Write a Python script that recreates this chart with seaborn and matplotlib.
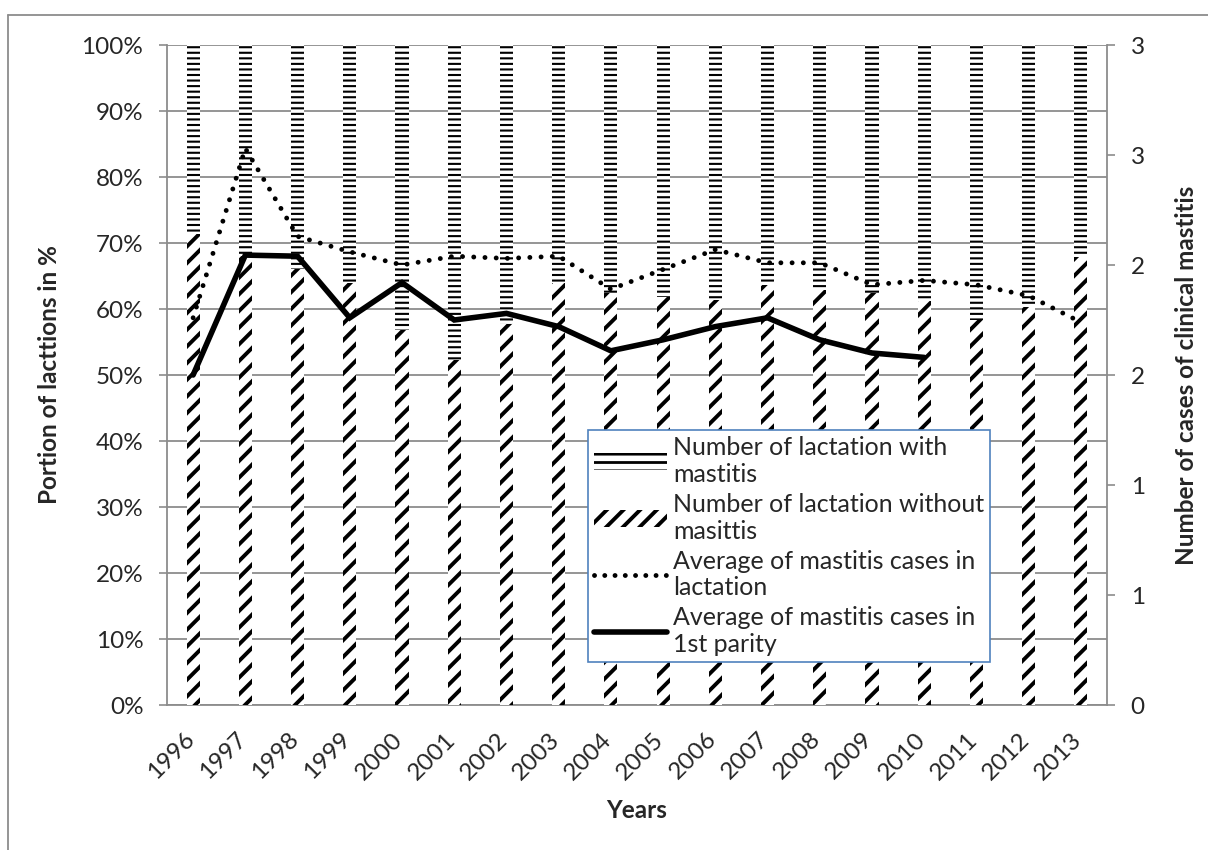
import matplotlib
matplotlib.use("Agg")
import matplotlib.pyplot as plt
from matplotlib.patches import Patch
from matplotlib.lines import Line2D
from matplotlib.transforms import ScaledTranslation
import numpy as np
import pandas as pd
import seaborn as sns

# ---- data -------------------------------------------------------------
years = ["1996", "1997", "1998", "1999", "2000", "2001", "2002", "2003", "2004",
         "2005", "2006", "2007", "2008", "2009", "2010", "2011", "2012", "2013"]

# share of lactations (%) without / with clinical mastitis
share_without = [71.3, 68.0, 66.0, 64.0, 56.8, 52.3, 57.8, 64.0, 62.4,
                 61.8, 61.4, 63.6, 62.9, 62.4, 61.2, 58.3, 60.3, 67.9]
share_with = [28.7, 32.0, 34.0, 36.0, 43.2, 47.7, 42.2, 36.0, 37.6,
              38.2, 38.6, 36.4, 37.1, 37.6, 38.8, 41.7, 39.7, 32.1]

# average number of clinical mastitis cases
avg_cases_lactation = [1.76, 2.53, 2.13, 2.06, 2.00, 2.04, 2.03, 2.04, 1.89,
                       1.98, 2.07, 2.01, 2.01, 1.91, 1.93, 1.91, 1.86, 1.74]
avg_cases_first_parity = [1.50, 2.045, 2.04, 1.76, 1.92, 1.75, 1.78, 1.72, 1.61,
                          1.66, 1.72, 1.76, 1.66, 1.60, 1.58]

left_ticks = [0, 10, 20, 30, 40, 50, 60, 70, 80, 90, 100]
left_tick_labels = ["0%", "10%", "20%", "30%", "40%", "50%", "60%", "70%", "80%", "90%", "100%"]
right_ticks = [0, 0.5, 1.0, 1.5, 2.0, 2.5, 3.0]
right_tick_labels = ["0", "1", "1", "2", "2", "3", "3"]

legend_labels = ["Number of lactation with\nmastitis",
                 "Number of lactation without\nmasittis",
                 "Average of mastitis cases in\nlactation",
                 "Average of mastitis cases in\n1st parity"]

# ---- style ------------------------------------------------------------
sns.set_theme(style="white")
plt.rcParams["font.family"] = ["Lato", "DejaVu Sans"]
plt.rcParams["hatch.color"] = "black"
GRAY = "#8c8c8c"
FS = 17.5
FS_LEG = 18
HLW_TOP = 1.5
HLW_LOW = 2.8

df = pd.DataFrame({"Year": years, "with": share_with, "without": share_without})
df["total"] = df["with"] + df["without"]

fig = plt.figure(figsize=(12.08, 8.5), dpi=100)
ax = fig.add_axes([167 / 1208, 1 - 705 / 850, 940 / 1208, 660 / 850])

# stacked 100 % columns: full column with horizontal hatch, lower part overlaid
with plt.rc_context({"hatch.linewidth": HLW_TOP}):
    sns.barplot(data=df, x="Year", y="total", color="white", saturation=1,
                width=0.25, edgecolor="black", linewidth=0, hatch="---",
                errorbar=None, ax=ax, zorder=2)
with plt.rc_context({"hatch.linewidth": HLW_LOW}):
    sns.barplot(data=df, x="Year", y="without", color="white", saturation=1,
                width=0.25, edgecolor="black", linewidth=0, hatch="//",
                errorbar=None, ax=ax, zorder=3)
for i, p in enumerate(ax.patches):
    if hasattr(p, "set_hatch_linewidth"):
        p.set_hatch_linewidth(HLW_TOP if i < len(years) else HLW_LOW)

ax.set_ylim(0, 100)
ax.set_yticks(left_ticks)
ax.set_yticklabels(left_tick_labels)
ax.set_axisbelow(True)
ax.yaxis.grid(True, color=GRAY, linewidth=1.3)
ax.xaxis.grid(False)
ax.tick_params(axis="y", which="both", left=True, length=6, width=1.2,
               color=GRAY, labelsize=FS, pad=11)
ax.tick_params(axis="x", length=0, labelsize=FS, pad=17)
shift = ScaledTranslation(5 / 100, 0, fig.dpi_scale_trans)
for lab in ax.get_xticklabels():
    lab.set_rotation(45)
    lab.set_ha("right")
    lab.set_transform(lab.get_transform() + shift)
for side in ["top", "right"]:
    ax.spines[side].set_visible(False)
for side in ["left", "bottom"]:
    ax.spines[side].set_color(GRAY)
    ax.spines[side].set_linewidth(1.3)

ax.set_xlabel("Years", fontsize=FS, fontweight="bold")
ax.set_ylabel("Portion of lacttions in %", fontsize=FS, fontweight="bold")
ax.xaxis.set_label_coords(0.5, -0.142)
ax.yaxis.set_label_coords(-0.113, 0.5)

# secondary axis: average number of cases
ax2 = ax.twinx()
x_all = np.arange(len(years))
x_first = np.arange(len(avg_cases_first_parity))
sns.lineplot(x=x_all, y=avg_cases_lactation, ax=ax2, color="black",
             linewidth=3.5, linestyle=(0, (0.01, 2.3)), dash_capstyle="round")
sns.lineplot(x=x_first, y=avg_cases_first_parity, ax=ax2, color="black",
             linewidth=4.0, solid_joinstyle="miter")
ax2.set_ylim(0, 3)
ax2.set_yticks(right_ticks)
ax2.set_yticklabels(right_tick_labels)
ax2.tick_params(axis="y", right=True, length=6, width=1.2, color=GRAY,
                labelsize=FS, pad=11)
for side in ["top", "left", "bottom"]:
    ax2.spines[side].set_visible(False)
ax2.spines["right"].set_color(GRAY)
ax2.spines["right"].set_linewidth(1.3)
ax2.set_ylabel("Number of cases of clinical mastitis", fontsize=FS, fontweight="bold")
ax2.yaxis.set_label_coords(1.072, 0.5)
ax.set_xlim(-0.5, len(years) - 0.5)

# legend
with plt.rc_context({"hatch.linewidth": 2.0}):
    h_with = Patch(facecolor="white", edgecolor="black", linewidth=0, hatch="--")
with plt.rc_context({"hatch.linewidth": HLW_LOW}):
    h_without = Patch(facecolor="white", edgecolor="black", linewidth=0, hatch="//")
handles = [
    h_with,
    h_without,
    Line2D([], [], color="black", linewidth=3.5, linestyle=(0, (0.01, 2.1)),
           dash_capstyle="round"),
    Line2D([], [], color="black", linewidth=4.0),
]
leg = ax2.legend(handles, legend_labels, loc="upper left",
                 bbox_to_anchor=(0.448, 0.417), fontsize=FS_LEG, frameon=True,
                 fancybox=False, edgecolor="#4F81BD", framealpha=1,
                 handlelength=2.9, handletextpad=0.25, labelspacing=0.28,
                 borderpad=0.25, borderaxespad=0)
leg.get_frame().set_linewidth(1.2)
for lh in leg.legend_handles:
    if hasattr(lh, "set_hatch_linewidth") and lh.get_hatch():
        lh.set_hatch_linewidth(2.0 if lh.get_hatch() == "--" else HLW_LOW)

# outer frame of the chart area
fig.add_artist(Line2D([8 / 1208, 8 / 1208], [0, 1 - 15 / 850],
                      transform=fig.transFigure, color=GRAY, linewidth=1.3))
fig.add_artist(Line2D([8 / 1208, 1], [1 - 15 / 850, 1 - 15 / 850],
                      transform=fig.transFigure, color=GRAY, linewidth=1.3))

fig.savefig("out.png", dpi=100)
